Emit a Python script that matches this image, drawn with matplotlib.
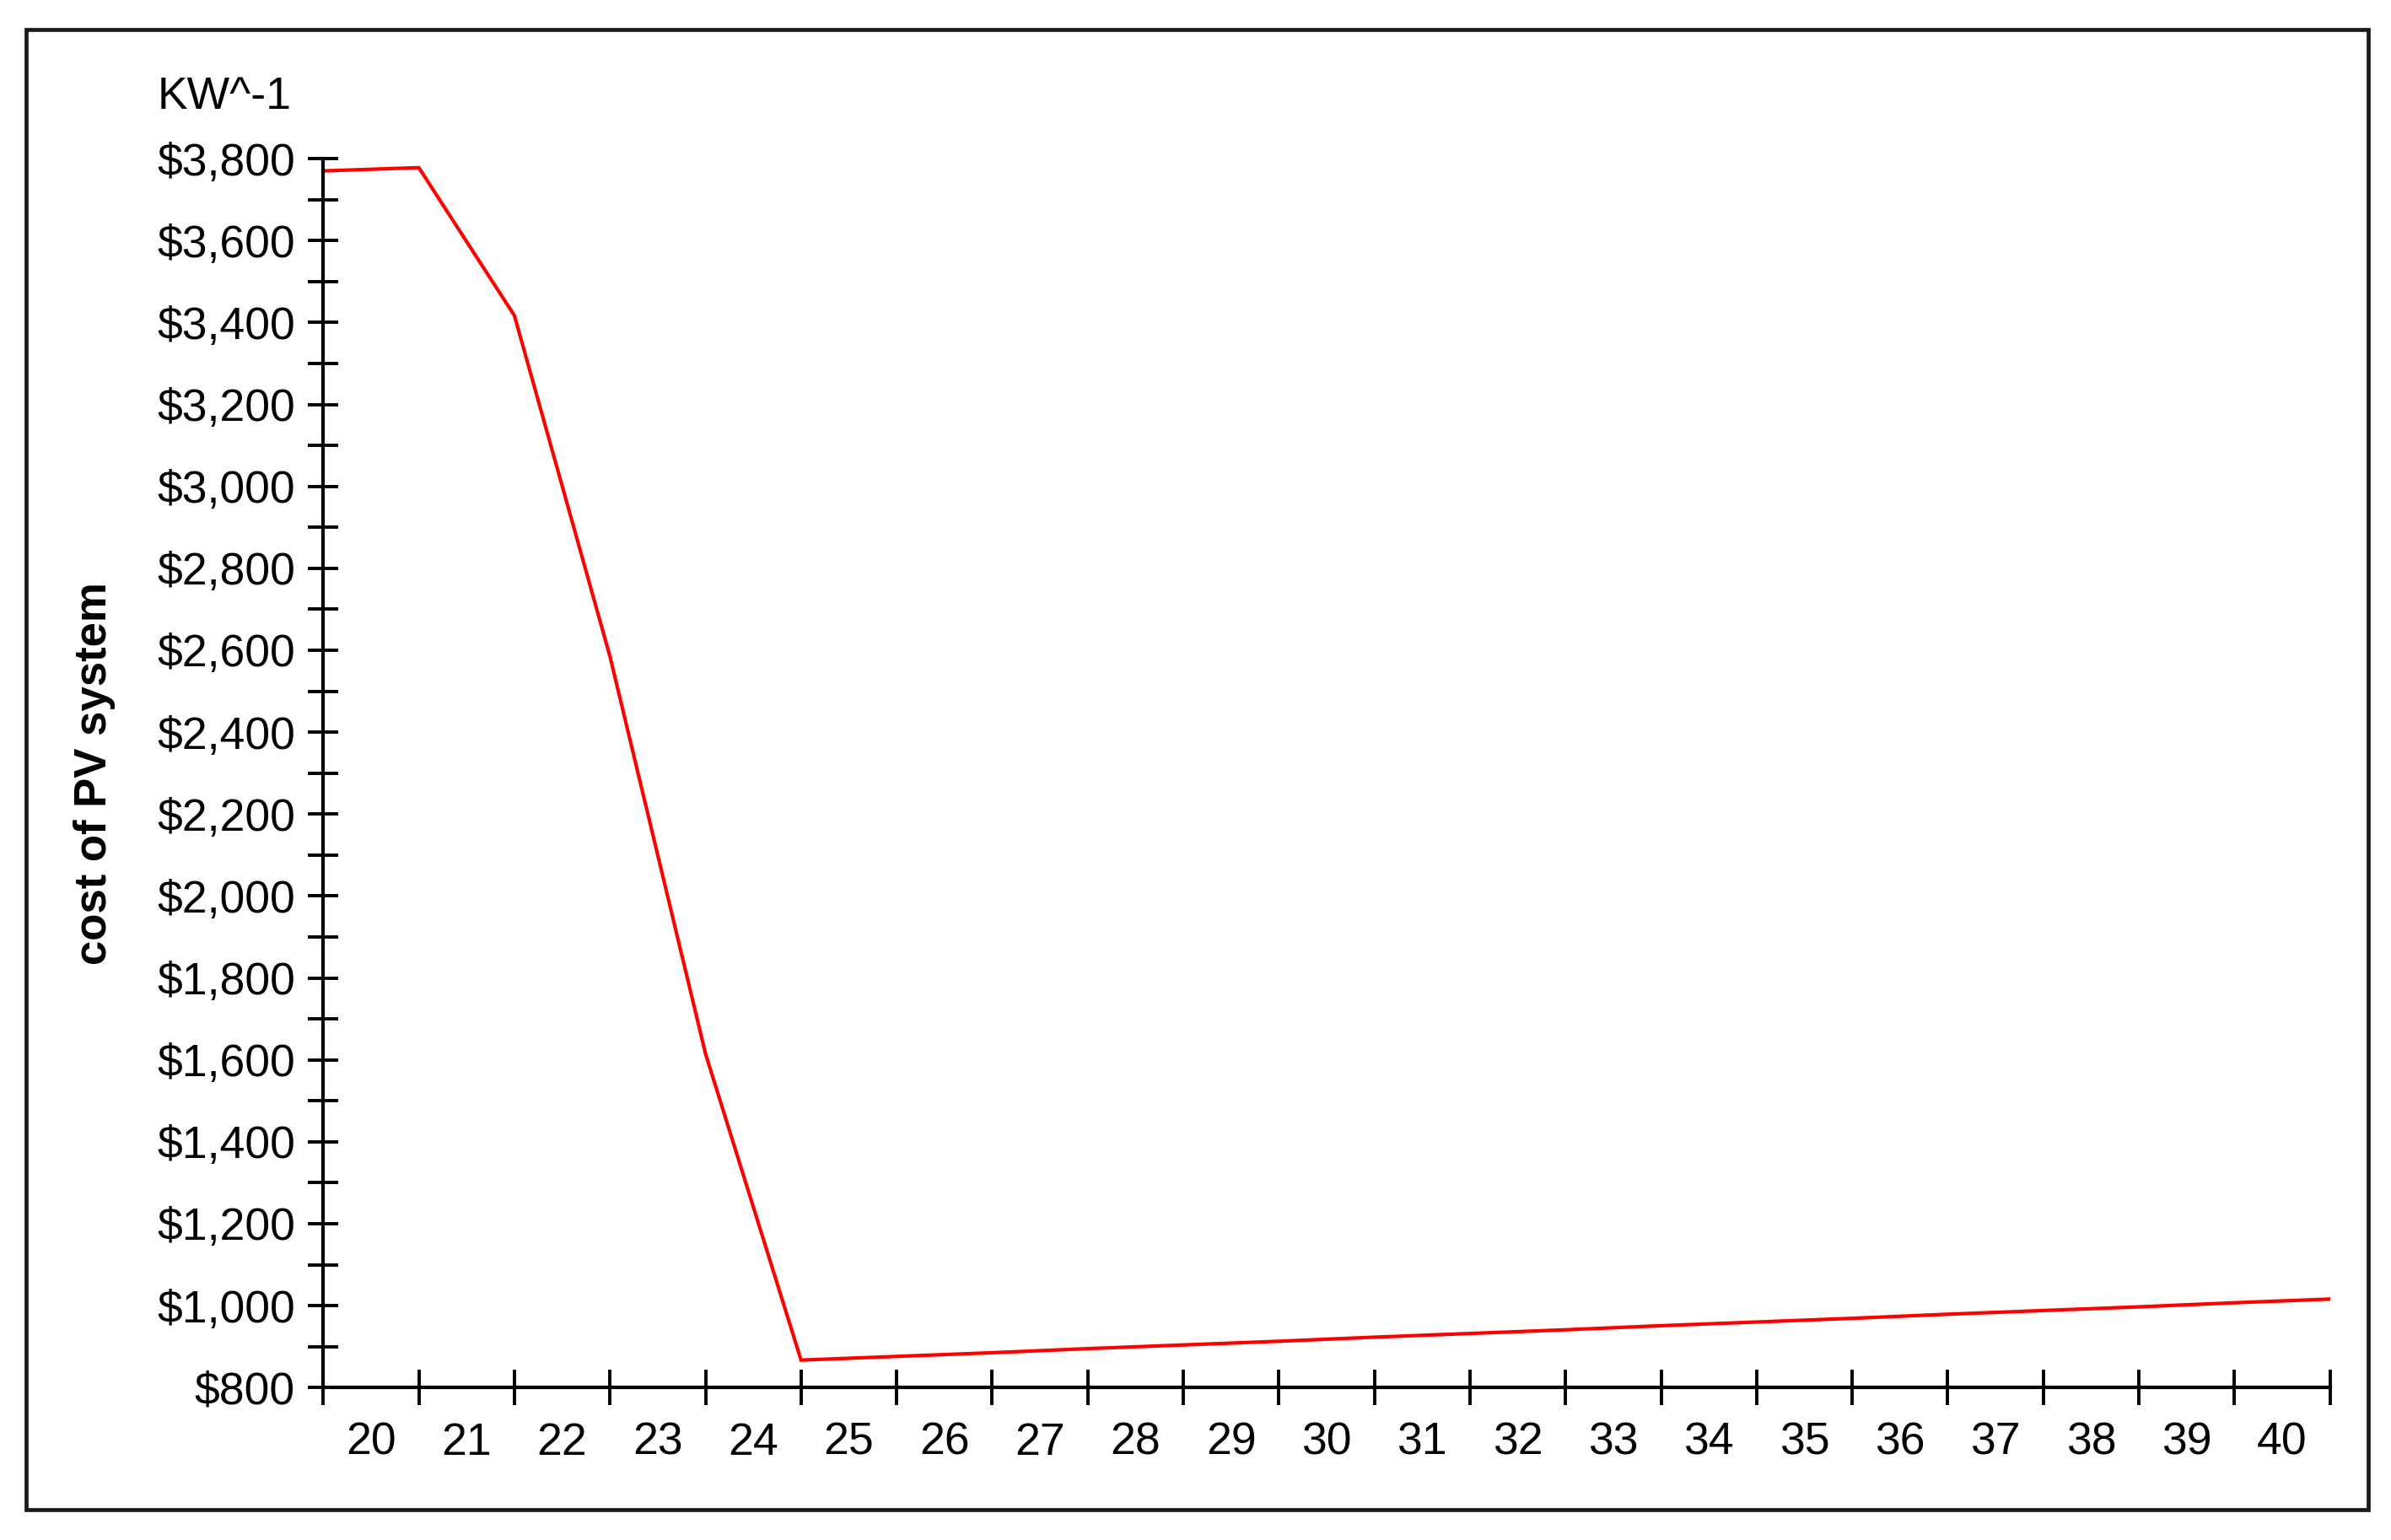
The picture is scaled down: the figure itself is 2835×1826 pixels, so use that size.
import matplotlib
matplotlib.use('Agg')
from matplotlib import pyplot as plt
from matplotlib.patches import Rectangle
import numpy as np

plt.rcParams['font.family'] = ['Liberation Sans', 'DejaVu Sans']

# cost values read at each tick boundary (22 boundaries for labels 20..40)
labels = [str(v) for v in range(20, 41)]
cost = [3770, 3778, 3417, 2585, 1615, 867, 876, 885, 895, 904, 913,
        923, 932, 941, 951, 960, 969, 979, 988, 997, 1007, 1016]
y_major = list(range(800, 3801, 200))
y_minor = list(range(900, 3800, 200))

fig = plt.figure(figsize=(28.35, 18.26), dpi=100)
ax = fig.add_axes([0.1352, 0.099, 0.8393, 0.798])

x = np.arange(len(cost))
ax.plot(x, cost, color='#ff0000', lw=3.0, solid_joinstyle='miter')

ax.set_xlim(0, len(cost) - 1)
ax.set_ylim(800, 3800)

for side in ['top', 'right']:
    ax.spines[side].set_visible(False)
for side in ['left', 'bottom']:
    ax.spines[side].set_linewidth(3.0)
    ax.spines[side].set_color('black')

ax.set_yticks(y_major)
ax.set_yticklabels(['${:,}'.format(v) for v in y_major])
ax.set_yticks(y_minor, minor=True)
ax.tick_params(axis='y', which='both', direction='inout', length=26, width=2.8,
               pad=11, labelsize=38.5, color='black')

ax.set_xticks(x)
ax.set_xticklabels([''] * len(x))
ax.set_xticks(np.arange(len(labels)) + 0.5, minor=True)
ax.set_xticklabels(labels, minor=True)
ax.tick_params(axis='x', which='major', direction='inout', length=30, width=2.8)
ax.tick_params(axis='x', which='minor', length=0, pad=29, labelsize=38.5)

fig.text(0.0395, 0.498, 'cost of PV system', rotation=90, fontsize=38,
         fontweight='bold', ha='center', va='center')
fig.text(0.066, 0.937, 'KW^-1', fontsize=38.5, ha='left', va='center')

fig.patches.append(Rectangle((0.0108, 0.0198), 0.9796, 0.9612, transform=fig.transFigure,
                             fill=False, edgecolor='#1a1a1a', lw=3.4))

fig.savefig('out.png', dpi=100)
